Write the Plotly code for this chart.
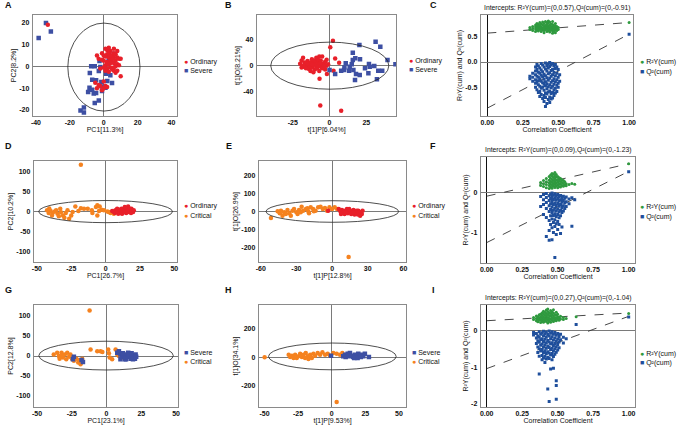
import plotly.graph_objects as go

W, H = 678, 425
RED = "#e8202a"; BLUE = "#3d4fa3"; ORANGE = "#f5821f"; GREEN = "#2f9a3f"; PBLUE = "#1f4f9c"
FONT = "Liberation Sans, Arial, sans-serif"

# ---------------- Panel A (PCA Ordinary vs Severe) ----------------
A_ord_x = [-33, 1, 2, 3, 4, 6, 8, -1, 0, 1, 2, 3, 5, 6, 7, 9, 10, -4, -3, -1, 0, 2, 3, 4, 5, 6, 7, 8, 9, 1, 0, 2, 4, 5, 6, 7, 8, 3, 1, -2, 10, 6, 5, 3, 4, -5, -2, 0, 1, 2, -1, -3, 0, -4, 8, 6, 2, 4, 7]
A_ord_y = [19, 8, 7.5, 8.5, 7, 6, 7, 6, 5, 4.5, 5.5, 4, 5, 4, 5.5, 3.5, 3.5, 5, 3.5, 3, 2.5, 2, 1, 3, 2, 1.5, 2.5, 1, 0.5, 0.5, -0.5, -1, -0.5, -1.5, -2, -3, -2, -2.5, -2, -1, -4.5, -0.5, 3.5, 6, 1.5, -7.5, -9, -10, -9, -9.5, -11, -8.5, -7, -10, 4, 8, 1.5, 5, 0]
A_sev_x = [-34.1, -31.2, -38.4, -7.4, -5.3, -2.5, -2.0, -8.2, -2.9, -4.5, -6.8, -8.4, -6.8, -9.2, -5.9, -4.5, -2.9, -5.3, -1.4, -1.0, -13.7, -11.7, -11.7, 2.1, 4.9, 3.9, 1.4, 2.9, 5.9, -1.0, 1.0]
A_sev_y = [19.8, 16.0, 13.0, 0, 0, 2.4, -0.3, -3.1, -2.1, -6.4, -6.1, -9.8, -10.7, -11.8, -12.5, -12.2, -15.6, -16.8, -7.2, -11.3, -20.2, -18.9, -21.1, -6.7, -7.6, -4.1, -3.4, 2.7, 5.8, -9.2, -9.8]

# ---------------- Panel B (OPLS-DA Ordinary vs Severe) ----------------
B_ord_x = [-20, -19, -18, -17, -16, -15, -15, -14, -14, -13, -13, -12, -12, -11, -11, -10, -10, -9, -9, -8, -8, -7, -7, -6, -6, -5, -5, -4, -3, -3, -2, -1, -17, -16, -18, -12, -10, -8, -13, -11, -6, -4, -15, -19, -9, 2.3, 0.5, 3.8, 6.5, 2.7, -6.8, -6.3, 7.9, -1.8, -7, -2]
B_ord_y = [3, 8, 12, -2, 4, 0, 7, -5, 2, 5, -1, 10, -3, 1, 6, -6, 3, 0, 12, -2, 5, -8, 2, 8, -1, 14, -4, 3, -6, 6, 0, 2, 5, -4, 0, 2, 8, 10, -8, -10, 4, -3, 3, -3, -4, 38, 28, 11, 4.6, -7.6, -20, -61, -69, -12.7, 14, 9]
B_sev_x = [15.8, 20.3, 31.3, 34.5, 15.8, 17.5, 20.7, 10.1, 7.9, 13.3, 16.2, 18.0, 17.3, 20.5, 26.4, 27.3, 30.4, 33.1, 32.2, 39.4, 35.8, 44.8, 13.7, 15.1, 9.9, 0.0, 3.8, 11.0, 24.1, 26.8]
B_sev_y = [19.9, 31.6, 36.7, 29.0, 8.7, 11.2, 9.7, -3.0, -7.6, -7.6, -6.6, -12.7, -21.9, -14.3, -11.7, -1.5, -0.5, -7.6, -20.9, 8.7, -7.6, 2.0, -1.5, 2.0, -6.6, -6.6, -12.7, 3.6, -4.1, 2.5]

# ---------------- Panel C (permutation, Ordinary vs Severe) ----------------
C_r2_x = [0.30, 0.30, 0.32, 0.32, 0.32, 0.34, 0.34, 0.34, 0.34, 0.35, 0.35, 0.35, 0.35, 0.36, 0.36, 0.36, 0.36, 0.37, 0.37, 0.37, 0.37, 0.38, 0.38, 0.38, 0.38, 0.39, 0.39, 0.39, 0.39, 0.40, 0.40, 0.40, 0.40, 0.40, 0.41, 0.41, 0.41, 0.41, 0.42, 0.42, 0.42, 0.42, 0.42, 0.43, 0.43, 0.43, 0.43, 0.43, 0.44, 0.44, 0.44, 0.44, 0.44, 0.45, 0.45, 0.45, 0.45, 0.46, 0.46, 0.46, 0.46, 0.46, 0.46, 0.47, 0.47, 0.47, 0.47, 0.48, 0.48, 0.48, 0.48, 0.48, 0.49, 0.49, 0.49, 0.50, 0.50, 1.00]
C_r2_y = [0.64, 0.68, 0.62, 0.66, 0.70, 0.60, 0.65, 0.69, 0.73, 0.63, 0.67, 0.71, 0.76, 0.61, 0.66, 0.70, 0.74, 0.64, 0.68, 0.72, 0.78, 0.60, 0.65, 0.69, 0.75, 0.63, 0.67, 0.73, 0.79, 0.58, 0.62, 0.66, 0.70, 0.76, 0.64, 0.68, 0.72, 0.80, 0.60, 0.65, 0.69, 0.74, 0.78, 0.62, 0.67, 0.71, 0.77, 0.81, 0.59, 0.64, 0.68, 0.73, 0.79, 0.63, 0.66, 0.70, 0.75, 0.57, 0.61, 0.65, 0.69, 0.74, 0.80, 0.60, 0.64, 0.68, 0.72, 0.58, 0.63, 0.67, 0.71, 0.76, 0.62, 0.66, 0.70, 0.64, 0.68, 0.78]
C_q2_x = [0.30, 0.30, 0.32, 0.32, 0.32, 0.34, 0.34, 0.34, 0.34, 0.34, 0.34, 0.35, 0.35, 0.35, 0.35, 0.35, 0.36, 0.36, 0.36, 0.36, 0.36, 0.36, 0.37, 0.37, 0.37, 0.37, 0.37, 0.37, 0.38, 0.38, 0.38, 0.38, 0.38, 0.38, 0.39, 0.39, 0.39, 0.39, 0.39, 0.39, 0.40, 0.40, 0.40, 0.40, 0.40, 0.40, 0.40, 0.41, 0.41, 0.41, 0.41, 0.41, 0.41, 0.41, 0.42, 0.42, 0.42, 0.42, 0.42, 0.42, 0.42, 0.43, 0.43, 0.43, 0.43, 0.43, 0.43, 0.43, 0.44, 0.44, 0.44, 0.44, 0.44, 0.44, 0.44, 0.44, 0.45, 0.45, 0.45, 0.45, 0.45, 0.45, 0.45, 0.46, 0.46, 0.46, 0.46, 0.46, 0.46, 0.46, 0.47, 0.47, 0.47, 0.47, 0.47, 0.47, 0.48, 0.48, 0.48, 0.48, 0.48, 0.48, 0.49, 0.49, 0.49, 0.49, 0.49, 0.50, 0.50, 0.50, 0.50, 0.51, 0.51, 0.41, 1.00]
C_q2_y = [-0.28, -0.33, -0.22, -0.30, -0.38, -0.10, -0.18, -0.25, -0.35, -0.42, -0.50, -0.05, -0.15, -0.28, -0.40, -0.55, -0.08, -0.20, -0.30, -0.37, -0.45, -0.60, -0.12, -0.22, -0.33, -0.48, -0.58, -0.68, -0.03, -0.16, -0.26, -0.38, -0.52, -0.64, -0.06, -0.19, -0.29, -0.41, -0.50, -0.72, -0.10, -0.24, -0.34, -0.44, -0.56, -0.66, -0.78, -0.02, -0.14, -0.27, -0.39, -0.47, -0.61, -0.70, -0.07, -0.18, -0.31, -0.43, -0.53, -0.63, -0.82, -0.04, -0.12, -0.23, -0.36, -0.49, -0.59, -0.74, -0.01, -0.09, -0.21, -0.32, -0.45, -0.57, -0.69, -0.80, -0.06, -0.17, -0.28, -0.40, -0.51, -0.62, -0.73, -0.03, -0.15, -0.25, -0.37, -0.48, -0.60, -0.71, -0.08, -0.20, -0.33, -0.44, -0.55, -0.66, -0.05, -0.13, -0.27, -0.39, -0.52, -0.61, -0.10, -0.22, -0.35, -0.46, -0.58, -0.15, -0.30, -0.42, -0.50, -0.25, -0.38, -0.88, 0.55]
C_r2_line_x = [0, 1]; C_r2_line_y = [0.57, 0.78]
C_q2_line_x = [0, 1]; C_q2_line_y = [-0.91, 0.55]

# ---------------- Panel D (PCA Ordinary vs Critical) ----------------
D_ord_x = [7.2, 8.4, 9.6, 10.8, 12.0, 13.3, 14.5, 15.7, 16.9, 18.0, 19.3, 16.4, 14.0, 11.6, 9.2, 6.7, 10.0, 12.5, 15.0, 17.5, 20.0, 18.8, 8.2, 11.3, 13.5, 16.0, 18.5, 5.8, 20.5, 4.8]
D_ord_y = [2.5, 6.6, -1.7, 2.5, -5.8, 6.6, 0.8, 4.0, -1.7, 2.5, 0.8, 12.4, 10.7, 6.6, -5.8, -4.0, 4.0, 0.8, -4.0, 6.6, -1.7, 6.6, 0.0, -4.0, -1.7, 0.8, -4.0, -0.8, 2.5, 0.8]
D_cri_x = [-18, -41, -40, -38.6, -39, -36, -35, -32.5, -31, -30, -26.5, -25, -29, -34, -37, -41.4, -22, -18, -15.7, -13, -10, -9.6, -7, -6, -4.3, -2.9, -4.8, -6, 2.4, 3.6, 6, 1.2, -1.2, -19.8, -24, -27.7, -33, -42.6]
D_cri_y = [116, 7, 1, -4, -10, 2.5, -6, -2, -10, -16, -18, -10, -4, -12, 0, -4, 12.4, 8, 6.6, 6.6, 2.5, -4, 11, 15, 12, 4, 1, -10, -1.7, -4, -6, 0, 2.5, 0.8, -1.6, 2.5, 6.6, 2.5]

# ---------------- Panel E (OPLS-DA Ordinary vs Critical) ----------------
E_ord_x = [-3.3, 5.6, 7.0, 8.3, 9.7, 11.0, 12.5, 13.9, 15.3, 16.7, 18.0, 19.4, 20.8, 22.0, 23.6, 25.0, 23.6, 21.7, 25.6, 7.5, 10.5, 13.3, 16.1, 18.9, 20.8, 22.8, 18.0, 14.4, 11.6]
E_ord_y = [3.7, 13, 0, 7.4, -5.5, 3.7, 13, 0, 3.7, -5.5, 7.4, 0, -11, 3.7, -5.5, -15, -24, -18, 3.7, -15, -15, -11, -15, -18, 3.7, -5.5, -5.5, 13, -5.5]
E_cri_x = [-51.4, -45.8, -43, -41.7, -40.3, -37.5, -36, -33.3, -32, -30, -27.8, -25.6, -24.4, -22, -20, -18, -16, -13.9, -11.7, -9.7, -7.8, -6, -4.2, -2.2, 0, 2.2, 4.2, -38.9, -34.7, -29, -19.4, 13.9, -44, -15.3, -20.8, -26.4]
E_cri_y = [-37, 0, 3.7, -24, -5.5, 7.4, -11, 3.7, 13, -5.5, 7.4, 25.8, 3.7, 13, 0, 22, 13, 3.7, 22, 25.8, 13, 18, 3.7, 22, 13, 22, 13, -15, -24, -15, -11, -254, -11, 0, 16.6, -5.5]

# ---------------- Panel F (permutation, Ordinary vs Critical) ----------------
F_r2_x = [0.38, 0.38, 0.40, 0.40, 0.40, 0.42, 0.42, 0.42, 0.42, 0.44, 0.44, 0.44, 0.44, 0.44, 0.45, 0.45, 0.45, 0.45, 0.45, 0.46, 0.46, 0.46, 0.46, 0.46, 0.46, 0.47, 0.47, 0.47, 0.47, 0.47, 0.48, 0.48, 0.48, 0.48, 0.48, 0.48, 0.49, 0.49, 0.49, 0.49, 0.49, 0.50, 0.50, 0.50, 0.50, 0.50, 0.51, 0.51, 0.51, 0.51, 0.52, 0.52, 0.52, 0.52, 0.53, 0.53, 0.53, 0.54, 0.54, 0.54, 0.55, 0.55, 0.56, 0.56, 0.58, 0.60, 0.62, 1.00]
F_r2_y = [0.18, 0.25, 0.15, 0.22, 0.30, 0.12, 0.20, 0.27, 0.35, 0.10, 0.18, 0.24, 0.31, 0.40, 0.14, 0.21, 0.28, 0.36, 0.44, 0.11, 0.19, 0.26, 0.33, 0.42, 0.48, 0.16, 0.23, 0.30, 0.38, 0.46, 0.13, 0.20, 0.27, 0.34, 0.41, 0.50, 0.17, 0.24, 0.31, 0.39, 0.45, 0.12, 0.19, 0.26, 0.33, 0.40, 0.15, 0.22, 0.29, 0.37, 0.14, 0.21, 0.28, 0.35, 0.18, 0.25, 0.32, 0.16, 0.23, 0.30, 0.19, 0.27, 0.22, 0.17, 0.20, 0.23, 0.21, 0.72]
F_q2_x = [0.38, 0.38, 0.40, 0.40, 0.40, 0.40, 0.42, 0.42, 0.42, 0.42, 0.42, 0.42, 0.44, 0.44, 0.44, 0.44, 0.44, 0.44, 0.44, 0.45, 0.45, 0.45, 0.45, 0.45, 0.45, 0.46, 0.46, 0.46, 0.46, 0.46, 0.46, 0.46, 0.46, 0.47, 0.47, 0.47, 0.47, 0.47, 0.47, 0.47, 0.48, 0.48, 0.48, 0.48, 0.48, 0.48, 0.48, 0.48, 0.49, 0.49, 0.49, 0.49, 0.49, 0.49, 0.49, 0.50, 0.50, 0.50, 0.50, 0.50, 0.50, 0.50, 0.51, 0.51, 0.51, 0.51, 0.51, 0.51, 0.52, 0.52, 0.52, 0.52, 0.52, 0.52, 0.53, 0.53, 0.53, 0.53, 0.53, 0.54, 0.54, 0.54, 0.54, 0.55, 0.55, 0.55, 0.56, 0.56, 0.56, 0.58, 0.58, 0.60, 0.60, 0.62, 1.00]
F_q2_y = [-0.10, -0.35, -0.05, -0.18, -0.30, -0.55, -0.02, -0.12, -0.25, -0.40, -0.62, -1.10, -0.08, -0.20, -0.33, -0.47, -0.70, -0.95, -1.19, -0.04, -0.15, -0.28, -0.42, -0.58, -0.80, -0.01, -0.10, -0.22, -0.36, -0.50, -0.66, -0.88, -1.18, -0.06, -0.17, -0.30, -0.44, -0.57, -0.75, -1.00, -0.03, -0.13, -0.26, -0.39, -0.53, -0.68, -0.85, -1.62, -0.08, -0.19, -0.32, -0.46, -0.60, -0.78, -1.05, -0.05, -0.15, -0.27, -0.41, -0.55, -0.72, -0.92, -0.10, -0.21, -0.34, -0.48, -0.63, -0.80, -0.07, -0.18, -0.30, -0.44, -0.58, -1.02, -0.12, -0.24, -0.37, -0.50, -0.86, -0.09, -0.20, -0.33, -0.46, -0.14, -0.26, -0.40, -0.11, -0.23, -0.35, -0.16, -0.28, -0.13, -0.84, -0.18, 0.52]
F_r2_line_x = [0, 1]; F_r2_line_y = [-0.09, 0.72]
F_q2_line_x = [0, 1]; F_q2_line_y = [-1.25, 0.53]

# ---------------- Panel G (PCA Severe vs Critical) ----------------
G_sev_x = [-24.2, -23.5, -18.0, -17.0, 7.7, 8.9, 10.0, 11.3, 12.5, 13.7, 14.9, 16.0, 17.3, 18.5, 19.7, 20.9, 20.4, 14.0, 15.6, 18.0, 11.8, 13.2, 19.0, 10.0, 21.3]
G_sev_y = [-8, -1.6, -10, -15, 8, 12, 4, -1.6, 1.6, -4, 4, -1.6, -6.6, 1.6, -4, 4, -6.6, -8, 8, 6.6, 6.6, -8, -8, -8, -1.6]
G_cri_x = [-12.2, -38, -35.5, -34.3, -32.4, -31.4, -30, -29, -28.3, -27, -26, -24.7, -23.5, -21.8, -20.4, -18.7, -20, -17.5, -11.5, -6.7, -4.3, -3, 1.2, 1.7, 2.2, 4, 6.5, 7.7, 8.9, 10, 11.3, -32, -33.8]
G_cri_y = [113.6, 4, 8, 0, 8, -4, 4, -8, 8, -1.6, 4, -8, -12, -6.6, -16.5, -20.6, -10, -6.6, 16.5, 12, 12, 10, 16.5, 6.6, -4, -8, 16.5, 4, 0, 6.6, -4, 1.6, -6.6]

# ---------------- Panel H (OPLS-DA Severe vs Critical) ----------------
H_sev_x = [-0.5, 8.6, 9.9, 11.9, 13.6, 14.8, 16.0, 17.3, 18.5, 19.8, 21.0, 22.2, 23.5, 24.7, 27.7, 10.4, 12.8, 16.8, 19.3, 21.7]
H_sev_y = [11.6, 7, 18.6, 25.6, 30, 11.6, 2.3, 18.6, 7, 25.6, 11.6, 18.6, 7, 25.6, 2.3, 2.3, 7, -4.7, -4.7, 2.3]
H_cri_x = [-49.9, 3.7, -32, -30.9, -29.6, -28.4, -27.2, -24.7, -23.5, -22.2, -21, -19.3, -17.8, -16, -14.8, -13.6, -12.3, -10.4, -8.6, -6.9, -4.9, -3, -1.2, 1.2, 3.7, 6.2, 7.9, -26, -17.3, -19.8]
H_cri_y = [0, -314, 18.6, 2.3, 11.6, -4.7, 18.6, 7, 25.6, 2.3, 18.6, 30, 7, 18.6, -4.7, 25.6, 11.6, 30, 18.6, 35, 18.6, 25.6, 11.6, 30, 25.6, 18.6, 30, -4.7, -11.6, -4.7]

# ---------------- Panel I (permutation, Severe vs Critical) ----------------
I_r2_x = [0.33, 0.33, 0.35, 0.35, 0.35, 0.36, 0.36, 0.36, 0.37, 0.37, 0.37, 0.38, 0.38, 0.38, 0.38, 0.39, 0.39, 0.39, 0.39, 0.40, 0.40, 0.40, 0.40, 0.40, 0.41, 0.41, 0.41, 0.41, 0.42, 0.42, 0.42, 0.42, 0.42, 0.43, 0.43, 0.43, 0.43, 0.43, 0.43, 0.44, 0.44, 0.44, 0.44, 0.45, 0.45, 0.45, 0.45, 0.45, 0.46, 0.46, 0.46, 0.46, 0.47, 0.47, 0.47, 0.47, 0.47, 0.48, 0.48, 0.48, 0.49, 0.49, 0.49, 0.49, 0.50, 0.50, 0.50, 0.51, 0.51, 0.52, 0.52, 0.54, 0.54, 0.56, 0.63, 1.00]
I_r2_y = [0.30, 0.36, 0.27, 0.33, 0.40, 0.24, 0.31, 0.38, 0.28, 0.35, 0.43, 0.22, 0.30, 0.37, 0.45, 0.26, 0.33, 0.41, 0.48, 0.23, 0.30, 0.38, 0.46, 0.53, 0.27, 0.34, 0.42, 0.50, 0.25, 0.32, 0.40, 0.47, 0.56, 0.21, 0.29, 0.36, 0.44, 0.52, 0.59, 0.26, 0.33, 0.41, 0.49, 0.23, 0.31, 0.39, 0.47, 0.55, 0.28, 0.35, 0.43, 0.51, 0.25, 0.33, 0.40, 0.48, 0.57, 0.29, 0.36, 0.44, 0.27, 0.34, 0.42, 0.50, 0.31, 0.38, 0.45, 0.28, 0.35, 0.32, 0.39, 0.30, 0.36, 0.33, 0.38, 0.47]
I_q2_x = [0.33, 0.33, 0.35, 0.35, 0.35, 0.36, 0.36, 0.36, 0.36, 0.37, 0.37, 0.37, 0.37, 0.37, 0.37, 0.38, 0.38, 0.38, 0.38, 0.39, 0.39, 0.39, 0.39, 0.39, 0.39, 0.40, 0.40, 0.40, 0.40, 0.40, 0.40, 0.41, 0.41, 0.41, 0.41, 0.41, 0.41, 0.42, 0.42, 0.42, 0.42, 0.42, 0.42, 0.43, 0.43, 0.43, 0.43, 0.43, 0.43, 0.44, 0.44, 0.44, 0.44, 0.44, 0.44, 0.44, 0.45, 0.45, 0.45, 0.45, 0.45, 0.45, 0.46, 0.46, 0.46, 0.46, 0.46, 0.46, 0.47, 0.47, 0.47, 0.47, 0.47, 0.47, 0.48, 0.48, 0.48, 0.48, 0.48, 0.49, 0.49, 0.49, 0.49, 0.49, 0.49, 0.49, 0.50, 0.50, 0.50, 0.50, 0.51, 0.51, 0.51, 0.52, 0.52, 0.54, 0.54, 0.56, 0.63, 1.00]
I_q2_y = [-0.05, -0.12, -0.08, -0.20, -0.35, -0.15, -0.28, -0.45, -0.60, -0.03, -0.18, -0.32, -0.50, -0.70, -1.19, -0.10, -0.25, -0.40, -0.56, -0.06, -0.22, -0.37, -0.52, -0.68, -0.80, -0.02, -0.14, -0.30, -0.45, -0.60, -0.75, -0.09, -0.24, -0.39, -0.55, -0.70, -0.87, -0.04, -0.18, -0.33, -0.48, -0.63, -0.78, -0.11, -0.27, -0.42, -0.58, -0.73, -1.60, -0.01, -0.15, -0.31, -0.46, -0.61, -0.76, -1.94, -0.07, -0.22, -0.37, -0.52, -0.67, -1.05, -0.03, -0.17, -0.33, -0.48, -0.63, -0.80, -0.10, -0.26, -0.41, -0.56, -0.71, -1.03, -0.05, -0.20, -0.35, -0.50, -0.65, -0.13, -0.29, -0.44, -0.59, -1.37, -1.50, -1.88, -0.08, -0.23, -0.38, -0.53, -0.16, -0.31, -0.47, -0.10, -0.25, -0.18, -0.34, -0.22, 0.17, 0.37]
I_r2_line_x = [0, 1]; I_r2_line_y = [0.27, 0.48]
I_q2_line_x = [0, 1]; I_q2_line_y = [-1.04, 0.39]

# ---------------- Text ----------------
perm_titles = ["Intercepts: R²Y(cum)=(0,0.57),Q²(cum)=(0,-0.91)",
               "Intercepts: R²Y(cum)=(0,0.09),Q²(cum)=(0,-1.23)",
               "Intercepts: R²Y(cum)=(0,0.27),Q²(cum)=(0,-1.04)"]

fig = go.Figure()

# panel layout boxes in pixels: left, right, top, bottom
boxes = {
    1: (30, 176, 15, 116), 2: (256, 397, 15, 116), 3: (482, 636, 15, 116),
    4: (31, 176, 161, 262), 5: (258, 407, 161, 262), 6: (482, 638, 157, 263),
    7: (31, 177, 305, 407), 8: (258, 407, 305, 407), 9: (482, 638, 305, 407),
}
ranges = {
    1: ([-41.9, 43.5], [-22.75, 23.5]),
    2: ([-49.5, 45.5], [-77, 77.5]),
    3: ([-0.0465, 1.03], [-1.066, 0.928]),
    4: ([-52.3, 52.3], [-125.6, 125]),
    5: ([-61.7, 62.5], [-282, 280]),
    6: ([-0.042, 1.047], [-1.76, 0.89]),
    7: ([-52.4, 51.7], [-127.6, 127.6]),
    8: ([-54.3, 55.6], [-349, 367]),
    9: ([-0.042, 1.047], [-2.09, 0.70]),
}
xticks = {1: [-40, -20, 0, 20, 40], 2: [-25, 0, 25], 3: [0, 0.25, 0.5, 0.75, 1],
          4: [-50, -25, 0, 25, 50], 5: [-60, -30, 0, 30, 60], 6: [0, 0.25, 0.5, 0.75, 1],
          7: [-50, -25, 0, 25, 50], 8: [-50, -25, 0, 25, 50], 9: [0, 0.25, 0.5, 0.75, 1]}
yticks = {1: [-20, -10, 0, 10, 20], 2: [-40, 0, 40], 3: [-0.5, 0, 0.5],
          4: [-100, -50, 0, 50, 100], 5: [-200, -100, 0, 100, 200], 6: [-1, 0],
          7: [-100, -50, 0, 50, 100], 8: [-200, 0, 200], 9: [-2, -1, 0]}
xtitles = {1: "PC1[11.3%]", 2: "t[1]P[6.04%]", 3: "Correlation Coefficient",
           4: "PC1[26.7%]", 5: "t[1]P[12.8%]", 6: "Correlation Coefficient",
           7: "PC1[23.1%]", 8: "t[1]P[9.53%]", 9: "Correlation Coefficient"}
ytitles = {1: "PC2[8.2%]", 2: "t[1]O[8.21%]", 3: "R²Y(cum) and Q²(cum)",
           4: "PC2[10.2%]", 5: "t[1]O[26.9%]", 6: "R²Y(cum) and Q²(cum)",
           7: "PC2[12.8%]", 8: "t[1]O[34.1%]", 9: "R²Y(cum) and Q²(cum)"}
ellipses = {1: (-21.2, 21.4, -20.5, 19.8), 2: (-40, 40.3, -36, 36), 4: (-48.7, 48.7, -28, 27),
            5: (-55.6, 56, -61, 59), 7: (-48.7, 48, -35, 37), 8: (-47, 48, -88, 100)}

def ax(i):
    return ("x" if i == 1 else f"x{i}"), ("y" if i == 1 else f"y{i}")

def add_pts(i, x, y, color, symbol, size):
    xa, ya = ax(i)
    fig.add_trace(go.Scatter(x=x, y=y, mode="markers", xaxis=xa, yaxis=ya, showlegend=False,
                             marker=dict(color=color, symbol=symbol, size=size, line=dict(width=0))))

def add_line(i, x, y):
    xa, ya = ax(i)
    fig.add_trace(go.Scatter(x=x, y=y, mode="lines", xaxis=xa, yaxis=ya, showlegend=False,
                             line=dict(color="#333333", width=0.9, dash="dash")))

# perm dashed lines first (behind points)
add_line(3, C_r2_line_x, C_r2_line_y); add_line(3, C_q2_line_x, C_q2_line_y)
add_line(6, F_r2_line_x, F_r2_line_y); add_line(6, F_q2_line_x, F_q2_line_y)
add_line(9, I_r2_line_x, I_r2_line_y); add_line(9, I_q2_line_x, I_q2_line_y)

add_pts(1, A_sev_x, A_sev_y, BLUE, "square", 4.5)
add_pts(1, A_ord_x, A_ord_y, RED, "circle", 4.5)
add_pts(2, B_ord_x, B_ord_y, RED, "circle", 4.5)
add_pts(2, B_sev_x, B_sev_y, BLUE, "square", 4.5)
add_pts(3, C_r2_x, C_r2_y, GREEN, "circle", 3)
add_pts(3, C_q2_x, C_q2_y, PBLUE, "square", 3)
add_pts(4, D_cri_x, D_cri_y, ORANGE, "circle", 4.5)
add_pts(4, D_ord_x, D_ord_y, RED, "circle", 4.5)
add_pts(5, E_cri_x, E_cri_y, ORANGE, "circle", 4.5)
add_pts(5, E_ord_x, E_ord_y, RED, "circle", 4.5)
add_pts(6, F_r2_x, F_r2_y, GREEN, "circle", 3)
add_pts(6, F_q2_x, F_q2_y, PBLUE, "square", 3)
add_pts(7, G_cri_x, G_cri_y, ORANGE, "circle", 4.5)
add_pts(7, G_sev_x, G_sev_y, BLUE, "square", 4.5)
add_pts(8, H_cri_x, H_cri_y, ORANGE, "circle", 4.5)
add_pts(8, H_sev_x, H_sev_y, BLUE, "square", 4.5)
add_pts(9, I_r2_x, I_r2_y, GREEN, "circle", 3)
add_pts(9, I_q2_x, I_q2_y, PBLUE, "square", 3)

layout = {}
shapes = []
annotations = []
for i in range(1, 10):
    l, r, t, b = boxes[i]
    xr, yr = ranges[i]
    perm = i in (3, 6, 9)
    xkey = "xaxis" if i == 1 else f"xaxis{i}"
    ykey = "yaxis" if i == 1 else f"yaxis{i}"
    xa, ya = ax(i)
    xtt = [f"{v:.2f}" for v in xticks[i]] if perm else [str(v) for v in xticks[i]]
    if i == 3:
        ytt = ["-0.5", "0.0", "0.5"]
    else:
        ytt = [str(v) for v in yticks[i]]
    layout[xkey] = dict(domain=[l / W, r / W], range=xr, anchor=ya, tickvals=xticks[i], ticktext=xtt,
                        showline=True, mirror=True, linecolor="#8a8a8a", linewidth=1, showgrid=False,
                        zeroline=True, zerolinecolor="#111111" if perm else "#7a7a7a", zerolinewidth=1,
                        ticks="", ticklabelstandoff=0,
                        tickfont=dict(size=7, color="#111", family=FONT, weight="bold"),
                        title=dict(text=xtitles[i], font=dict(size=7, color="#111", family=FONT), standoff=0))
    layout[ykey] = dict(domain=[1 - b / H, 1 - t / H], range=yr, anchor=xa, tickvals=yticks[i], ticktext=ytt,
                        showline=True, mirror=True, linecolor="#8a8a8a", linewidth=1, showgrid=False,
                        zeroline=True, zerolinecolor="#7a7a7a", zerolinewidth=1,
                        ticks="", ticklabelstandoff=1,
                        tickfont=dict(size=7, color="#111", family=FONT, weight="bold"),
                        title=dict(text=ytitles[i], font=dict(size=7, color="#111", family=FONT), standoff=1))
    if i in ellipses:
        x0, x1, y0, y1 = ellipses[i]
        shapes.append(dict(type="circle", xref=xa, yref=ya, x0=x0, x1=x1, y0=y0, y1=y1,
                           line=dict(color="#222", width=0.8), layer="above"))

# panel letters
letters = [("A", 6, 5), ("B", 228, 5), ("C", 434, 5), ("D", 6, 146), ("E", 228, 146),
           ("F", 434, 146), ("G", 6, 290), ("H", 228, 290), ("I", 434, 290)]
for txt, px, py in letters:
    annotations.append(dict(text=f"<b>{txt}</b>", x=px / W, y=1 - py / H, xref="paper", yref="paper",
                            xanchor="center", yanchor="middle", showarrow=False,
                            font=dict(size=9, color="#111", family=FONT)))

# permutation titles
for i, ttl in zip((3, 6, 9), perm_titles):
    l, r, t, b = boxes[i]
    annotations.append(dict(text=ttl, x=(l + r) / 2 / W, y=1 - (t - 1) / H, xref="paper", yref="paper",
                            xanchor="center", yanchor="bottom", showarrow=False,
                            font=dict(size=6.8, color="#111", family=FONT)))

# legends
def leg(px, py, sym, color, label, symsize=7):
    annotations.append(dict(text=f"<span style='color:{color};font-size:{symsize}px'>{sym}</span> {label}",
                            x=px / W, y=1 - py / H, xref="paper", yref="paper",
                            xanchor="left", yanchor="middle", showarrow=False,
                            font=dict(size=7, color="#111", family=FONT)))

legend_spec = [
    (181, 62, 71, ("●", RED, "Ordinary"), ("■", BLUE, "Severe")),
    (408, 61, 70, ("●", RED, "Ordinary"), ("■", BLUE, "Severe")),
    (641, 62, 72, ("●", GREEN, "R²Y(cum)"), ("■", PBLUE, "Q²(cum)")),
    (181, 206, 215, ("●", RED, "Ordinary"), ("●", ORANGE, "Critical")),
    (411, 206, 215, ("●", RED, "Ordinary"), ("●", ORANGE, "Critical")),
    (641, 207, 217, ("●", GREEN, "R²Y(cum)"), ("■", PBLUE, "Q²(cum)")),
    (181, 352, 361, ("■", BLUE, "Severe"), ("●", ORANGE, "Critical")),
    (411, 352, 361, ("■", BLUE, "Severe"), ("●", ORANGE, "Critical")),
    (641, 354, 363, ("●", GREEN, "R²Y(cum)"), ("■", PBLUE, "Q²(cum)")),
]
for px, y1, y2, e1, e2 in legend_spec:
    leg(px, y1, *e1)
    leg(px, y2, *e2)

fig.update_layout(width=W, height=H, margin=dict(l=0, r=0, t=0, b=0),
                  paper_bgcolor="white", plot_bgcolor="white", showlegend=False,
                  shapes=shapes, annotations=annotations, font=dict(family=FONT), **layout)

fig.write_html("out.html", config={"displayModeBar": False},
               post_script="document.body.style.margin='0px';document.body.style.overflow='hidden';")
